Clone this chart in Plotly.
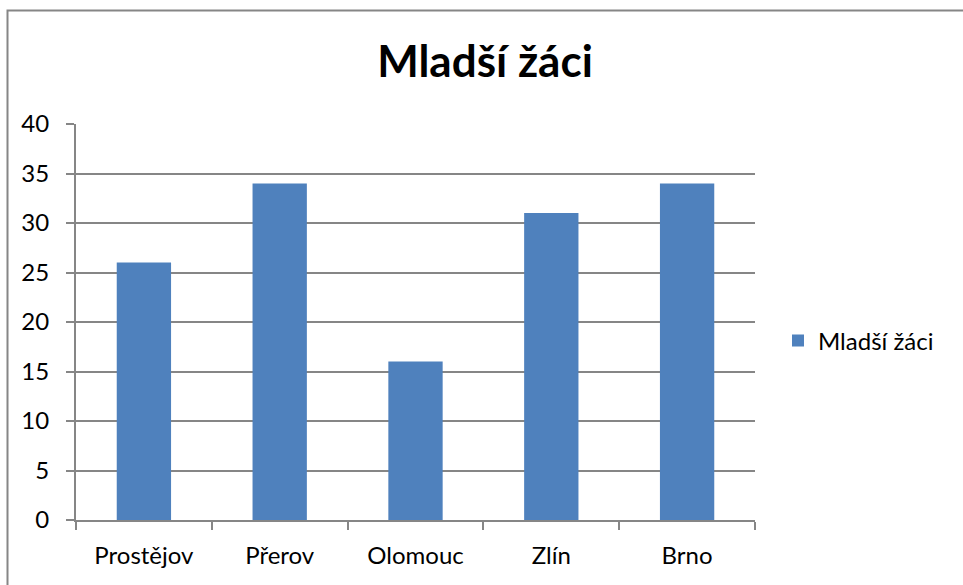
import plotly.graph_objects as go

categories = ["Prostějov", "Přerov", "Olomouc", "Zlín", "Brno"]
values = [26, 34, 16, 31, 34]
series_name = "Mladší žáci"
title_text = "Mladší žáci"

W, H = 963, 585
L, R, T, B = 76, 755, 124, 520
pw, ph = R - L, B - T

def px(x):
    return (x - L) / pw

def py(y):
    return (B - y) / ph

fig = go.Figure()
fig.add_trace(go.Bar(x=categories, y=values, name=series_name,
                     marker=dict(color="#4F81BD", line=dict(width=0)),
                     showlegend=True))

grid = "#868686"
font = "Lato"
fs = 24
fig.update_layout(
    width=W, height=H,
    margin=dict(l=L, r=W - R, t=T, b=H - B),
    paper_bgcolor="white", plot_bgcolor="white",
    bargap=0.6,
    font=dict(family=font, size=fs, color="black"),
    title=dict(text="<b>" + title_text + "</b>", x=485 / W, xref="container", xanchor="center",
               y=1 - 62 / H, yref="container", yanchor="middle",
               font=dict(family=font, size=44, color="black")),
    legend=dict(x=px(778), y=py(341), xanchor="left", yanchor="middle",
                font=dict(family=font, size=fs, color="black"),
                bgcolor="rgba(0,0,0,0)"),
    xaxis=dict(type="category", showgrid=False, showline=True, linecolor=grid, linewidth=2,
               ticks="outside", ticklen=8, tickcolor=grid, tickwidth=2, tickson="boundaries",
               ticklabelstandoff=13, tickfont=dict(family=font, size=fs, color="black")),
    yaxis=dict(range=[0, 40], dtick=5, showgrid=True, gridcolor=grid, gridwidth=2,
               showline=True, linecolor=grid, linewidth=2, zeroline=False,
               ticks="outside", ticklen=8, tickcolor=grid, tickwidth=2,
               ticklabelstandoff=12, tickfont=dict(family=font, size=fs, color="black")),
    shapes=[dict(type="rect", xref="paper", yref="paper",
                 x0=px(7.5), x1=px(1100), y0=py(10.5), y1=py(700),
                 line=dict(color=grid, width=2), fillcolor="rgba(0,0,0,0)", layer="below")],
)

fig.write_html("out.html", config={"displayModeBar": False},
               post_script="document.body.style.margin='0';document.body.style.overflow='hidden';")
